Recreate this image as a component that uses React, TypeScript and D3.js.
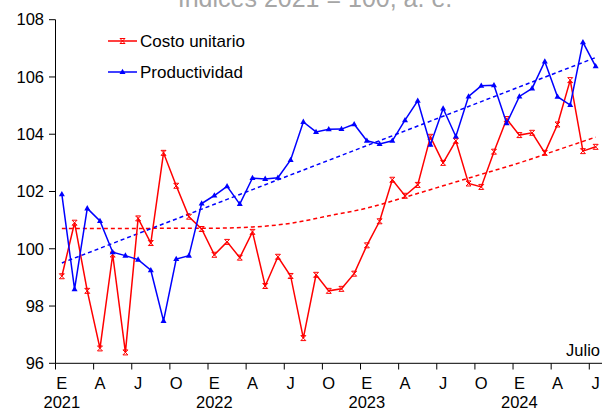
import React from 'react';
import * as d3 from 'd3';

// Índices 2021 = 100, enero 2021 - julio 2024
const costoUnitario = [
  99.04, 100.91, 98.53, 96.52, 99.8, 96.38, 101.06, 100.2, 103.35, 102.2, 101.12,
  100.69, 99.79, 100.24, 99.69, 100.59, 98.7, 99.72, 99.05, 96.88, 99.09, 98.53,
  98.6, 99.13, 100.12, 100.96, 102.41, 101.85, 102.23, 103.91, 103.0, 103.77,
  102.28, 102.16, 103.39, 104.53, 103.97, 104.05, 103.35, 104.34, 105.89, 103.41, 103.56,
];
const productividad = [
  101.9, 98.59, 101.41, 100.97, 99.88, 99.76, 99.62, 99.25, 97.48, 99.64, 99.76,
  101.58, 101.86, 102.18, 101.56, 102.47, 102.44, 102.48, 103.1, 104.43, 104.08, 104.17,
  104.18, 104.35, 103.77, 103.66, 103.77, 104.49, 105.17, 103.63, 104.9, 103.92,
  105.32, 105.69, 105.71, 104.38, 105.32, 105.6, 106.54, 105.31, 105.02, 107.21, 106.37,
];
const tendenciaCosto = [
  100.71, 100.71, 100.71, 100.72, 100.72, 100.76, 100.89, 101.15,
  101.42, 101.8, 102.2, 102.6, 103.0, 103.45, 103.9,
];
const monthLabels = ['E', 'A', 'J', 'O'];
const yearLabels = ['2021', '2022', '2023', '2024'];
const yTicks = [96, 98, 100, 102, 104, 106, 108];

// least squares linear fit
function linFit(ys: number[]) {
  const n = ys.length;
  const mx = d3.mean(ys, (_, i) => i) as number;
  const my = d3.mean(ys) as number;
  let sxy = 0;
  let sxx = 0;
  ys.forEach((y, i) => {
    sxy += (i - mx) * (y - my);
    sxx += (i - mx) * (i - mx);
  });
  const b = sxy / sxx;
  return d3.range(n).map((i) => my + b * (i - mx));
}

const font = 'Liberation Sans, Arial, sans-serif';

export default function App() {
  const width = 604;
  const height = 411;
  const idx = d3.range(costoUnitario.length);

  const x = d3.scaleBand<number>().domain(idx).range([55.5, 602]).padding(0);
  const cx = (i: number) => (x(i) as number) + x.bandwidth() / 2;
  const y = d3.scaleLinear().domain([96, 108]).range([363.3, 19.7]);

  const line = d3
    .line<number>()
    .x((_, i) => cx(i))
    .y((d) => y(d));

  const trendLine = d3
    .line<number>()
    .x((_, k) => cx(k * 3))
    .y((d) => y(d))
    .curve(d3.curveMonotoneX);

  const trendProd = linFit(productividad);

  const red = '#ff0000';
  const blue = '#0000ff';

  const star = 'M-2.5,-2.5L2.5,2.5M-2.5,2.5L2.5,-2.5M-2.5,-2.5H2.5M-2.5,2.5H2.5';
  const tri = 'M0,-3.3L3,2L-3,2Z';

  const tickIdx = idx.filter((i) => i % 3 === 0);

  return (
    <svg
      width={width}
      height={height}
      style={{ position: 'absolute', left: 0, top: 0, fontFamily: font }}
    >
      <rect width={width} height={height} fill="#fff" />
      <text x={315} y={7} textAnchor="middle" fontSize={25} fill="#a6a6a6">
        Índices 2021 = 100, a. e.
      </text>

      {/* trend lines */}
      <path d={trendLine(tendenciaCosto) || ''} fill="none" stroke={red} strokeWidth={1.5} strokeDasharray="4,3" />
      <path d={line(trendProd) || ''} fill="none" stroke={blue} strokeWidth={1.5} strokeDasharray="4,3" />

      {/* series */}
      <path d={line(costoUnitario) || ''} fill="none" stroke={red} strokeWidth={1.5} />
      {costoUnitario.map((d, i) => (
        <path key={'c' + i} d={star} transform={`translate(${cx(i)},${y(d)})`} stroke={red} strokeWidth={1} fill="none" />
      ))}
      <path d={line(productividad) || ''} fill="none" stroke={blue} strokeWidth={1.5} />
      {productividad.map((d, i) => (
        <path key={'p' + i} d={tri} transform={`translate(${cx(i)},${y(d)})`} fill={blue} />
      ))}

      {/* y axis */}
      <line x1={55.5} x2={55.5} y1={19.7} y2={363.3} stroke="#000" strokeWidth={1} />
      {yTicks.map((t) => (
        <g key={t}>
          <line x1={49} x2={55.5} y1={y(t)} y2={y(t)} stroke="#000" />
          <text x={44} y={y(t)} dy="0.35em" textAnchor="end" fontSize={16.5} fill="#000">
            {t}
          </text>
        </g>
      ))}

      {/* x axis */}
      <line x1={55.5} x2={602} y1={363.3} y2={363.3} stroke="#000" strokeWidth={1} />
      {tickIdx.map((i) => (
        <g key={'t' + i}>
          <line x1={x(i) as number} x2={x(i) as number} y1={363.3} y2={369.5} stroke="#000" />
          <text x={cx(i)} y={389} textAnchor="middle" fontSize={16.5} fill="#000">
            {monthLabels[(i / 3) % 4]}
          </text>
          {i % 12 === 0 && (
            <text x={cx(i)} y={408} textAnchor="middle" fontSize={16.5} fill="#000">
              {yearLabels[i / 12]}
            </text>
          )}
        </g>
      ))}
      <text x={600} y={356} textAnchor="end" fontSize={16.5} fill="#000">
        Julio
      </text>

      {/* legend */}
      <line x1={108} x2={137} y1={41} y2={41} stroke={red} strokeWidth={1.5} />
      <path d={star} transform="translate(122.5,41)" stroke={red} strokeWidth={1} fill="none" />
      <text x={140} y={47} fontSize={17} fill="#000">
        Costo unitario
      </text>
      <line x1={108} x2={137} y1={72} y2={72} stroke={blue} strokeWidth={1.5} />
      <path d={tri} transform="translate(122.5,72)" fill={blue} />
      <text x={140} y={78} fontSize={17} fill="#000">
        Productividad
      </text>
    </svg>
  );
}
